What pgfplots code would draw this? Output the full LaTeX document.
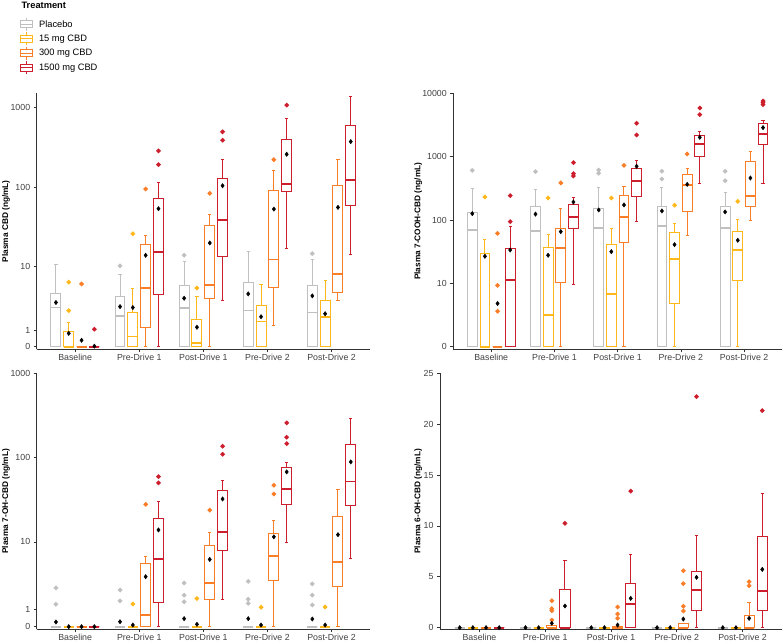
\documentclass[border=0pt]{standalone}
\usepackage{fontspec}
\setmainfont{Liberation Sans}
\usepackage{pgfplots}
\pgfplotsset{compat=1.18}
\usepgfplotslibrary{statistics}
\definecolor{placebogray}{RGB}{192,192,192}
\definecolor{fifteenmg}{RGB}{255,184,28}
\definecolor{threehundredmg}{RGB}{250,125,40}
\definecolor{fifteenhundredmg}{RGB}{204,30,44}
% pseudo-log scale of the original: asinh(v/2)/ln(10)
\newcommand\psT[1]{\begingroup
  \pgfkeys{/pgf/fpu=true,/pgf/fpu/output format=fixed}%
  \pgfmathparse{ln(#1/2+sqrt((#1/2)*(#1/2)+1))/ln(10)}%
  \xdef\pstmp{\pgfmathresult}\endgroup}
% list of points x/v (v in ng/mL) -> \pslist of scaled coordinates
\newcommand\pspts[1]{\gdef\pslist{}%
  \if\relax\detokenize{#1}\relax\else
  \foreach \px/\pv in {#1}{\psT{\pv}\xdef\pslist{\pslist(\px,\pstmp)}}\fi}
\pgfplotsset{
  bxs/.style={draw=#1, color=#1, line width=1pt, solid,
    mark=*, mark size=1.8pt, mark options={draw=none, fill=#1},
    boxplot/draw direction=y,
    boxplot/box extend=0.155, boxplot/whisker extend=0.05,
    boxplot/draw/box/.code={%
      \draw[color=#1, line width=1pt]
        (boxplot box cs:\pgfplotsboxplotvalue{lower quartile},0)
        rectangle
        (boxplot box cs:\pgfplotsboxplotvalue{upper quartile},1);},
    boxplot/every whisker/.style={draw=#1, line width=1pt},
    boxplot/every median/.style={draw=#1, line width=1.8pt}},
  bxleg/.style={legend image code/.code={%
    \path[draw=none, fill=none] (0pt,0pt) -- (17pt,0pt);
    \draw[color=#1, line width=1pt] (0pt,-3.5pt) rectangle (12pt,3.5pt);
    \draw[color=#1, line width=1pt] (0pt,0pt) -- (12pt,0pt);
    \draw[color=#1, line width=1pt] (6pt,3.5pt) -- (6pt,6.5pt) (6pt,-3.5pt) -- (6pt,-6.5pt);}},
  common/.style={
    scale only axis, clip=false,
    xmin=0.4, xmax=5.6,
    axis x line*=bottom, axis y line*=left,
    axis line style={line width=0.8pt, black!80},
    xtick={1,2,3,4,5},
    xticklabels={Baseline,Pre-Drive 1,Post-Drive 1,Pre-Drive 2,Post-Drive 2},
    tick align=outside, major tick length=3pt,
    tick style={black!80, line width=0.6pt},
    ticklabel style={font=\fontsize{8.8}{10}\selectfont, text=black!75},
    xticklabel style={yshift=1.5pt},
    every axis y label/.style={rotate=90, anchor=center, font=\bfseries\fontsize{8.3}{10}\selectfont},
    /pgf/number format/assume math mode=true,
  },
}
% #1 colour, #2 position, #3 lower whisker, #4 Q1, #5 median, #6 Q3, #7 upper whisker, #8 outliers (coordinates)
\newcommand\bx[8]{\addplot[bxs=#1, boxplot prepared={draw position=#2, lower whisker=#3, lower quartile=#4, median=#5, upper quartile=#6, upper whisker=#7}] coordinates {#8};}
% same, values in ng/mL drawn on the pseudo-log axes; #8 = list of outlier values
\newcommand\bxl[8]{%
  \psT{#3}\let\vA\pstmp \psT{#4}\let\vB\pstmp \psT{#5}\let\vC\pstmp
  \psT{#6}\let\vD\pstmp \psT{#7}\let\vE\pstmp
  \gdef\pslist{}%
  \if\relax\detokenize{#8}\relax\else
  \foreach \pv in {#8}{\psT{\pv}\xdef\pslist{\pslist(0,\pstmp)}}\fi
  \edef\bxcmd{\noexpand\addplot[bxs=#1, boxplot prepared={draw position=#2, lower whisker=\vA, lower quartile=\vB, median=\vC, upper quartile=\vD, upper whisker=\vE}] coordinates {\pslist};}%
  \bxcmd}
\newcommand\meansl[1]{\pspts{#1}%
  \edef\bxcmd{\noexpand\addplot[only marks, mark=diamond*, mark size=2.2pt, black] coordinates {\pslist};}%
  \bxcmd}
\begin{document}
\psT{1}\let\tA\pstmp \psT{10}\let\tB\pstmp \psT{100}\let\tC\pstmp
\psT{1000}\let\tD\pstmp \psT{10000}\let\tE\pstmp
\begin{tikzpicture}
\path[use as bounding box] (0,0) rectangle (784pt,642pt);

% ---------------- Plasma CBD
\begin{axis}[common, at={(36.7pt,292.7pt)}, anchor=south west,
  width=333.3pt, height=256pt, ymin=-0.033, ymax=3.176,
  ytick={0,\tA,\tB,\tC,\tD}, yticklabels={0,1,10,100,1000},
  ylabel={Plasma CBD (ng/mL)}, ylabel style={at={(axis description cs:-0.092,0.5)}},
  legend style={at={(axis description cs:-0.061,1.305)}, anchor=north west, draw=none, fill=none,
    font=\fontsize{9.3}{11}\selectfont, row sep=0.4pt, cells={anchor=west}},
  legend cell align=left]
\addlegendimage{bxleg=placebogray}\addlegendentry{Placebo}
\addlegendimage{bxleg=fifteenmg}\addlegendentry{15 mg CBD}
\addlegendimage{bxleg=threehundredmg}\addlegendentry{300 mg CBD}
\addlegendimage{bxleg=fifteenhundredmg}\addlegendentry{1500 mg CBD}
\node[anchor=west, font=\bfseries\fontsize{9.3}{11}\selectfont] at (axis description cs:-0.056,1.343) {Treatment};
% Baseline
\bxl{placebogray}{0.7}{0}{0}{2.77}{4.37}{10.6}{}
\bxl{fifteenmg}{0.9}{0}{0}{0}{0.89}{1.53}{2.48,6.3}
\bxl{threehundredmg}{1.1}{0}{0}{0}{0}{0}{5.95}
\bxl{fifteenhundredmg}{1.3}{0}{0}{0}{0}{0}{1.05}
% Pre-Drive 1
\bxl{placebogray}{1.7}{0}{0}{2.02}{4.0}{7.95}{10.2}
\bxl{fifteenmg}{1.9}{0}{0}{0.59}{2.27}{5.15}{26}
\bxl{threehundredmg}{2.1}{0}{1.18}{5.25}{18.8}{24.6}{94.8}
\bxl{fifteenhundredmg}{2.3}{0}{4.27}{15.2}{71}{115}{191,284}
% Post-Drive 1
\bxl{placebogray}{2.7}{0}{0}{2.69}{5.6}{11.5}{13.9}
\bxl{fifteenmg}{2.9}{0}{0}{0.19}{1.7}{3.96}{5.25}
\bxl{threehundredmg}{3.1}{0}{3.75}{5.8}{33.4}{44.7}{83.6}
\bxl{fifteenhundredmg}{3.3}{3.5}{13.5}{38.6}{126.5}{221}{387,493}
% Pre-Drive 2
\bxl{placebogray}{3.7}{0}{0}{2.48}{6.3}{15.5}{}
\bxl{fifteenmg}{3.9}{0}{0}{1.58}{2.99}{5.9}{}
\bxl{threehundredmg}{4.1}{1.32}{5.4}{12.3}{89.4}{161}{221}
\bxl{fifteenhundredmg}{4.3}{16.9}{87}{110.6}{391}{718}{1066}
% Post-Drive 2
\bxl{placebogray}{4.7}{0}{0}{2.3}{5.7}{12.2}{14.6}
\bxl{fifteenmg}{4.9}{0}{0}{1.9}{3.55}{6.7}{}
\bxl{threehundredmg}{5.1}{3.58}{4.5}{7.95}{105}{225}{}
\bxl{fifteenhundredmg}{5.3}{14.4}{59}{124}{586}{1371}{}
% means
\meansl{0.7/3.3, 0.9/0.79, 1.1/0.37, 1.3/0.03,
 1.7/2.86, 1.9/2.77, 2.1/13.9, 2.3/53.6,
 2.7/3.8, 2.9/1.18, 3.1/19.9, 3.3/104,
 3.7/4.37, 3.9/1.95, 4.1/53, 4.3/258,
 4.7/4.1, 4.9/2.2, 5.1/55.7, 5.3/372}
\end{axis}

% ---------------- Plasma 7-COOH-CBD
\begin{axis}[common, at={(453.3pt,292.7pt)}, anchor=south west,
  width=328.7pt, height=256pt, ymin=-0.041, ymax=4.0,
  ytick={0,\tB,\tC,\tD,\tE}, yticklabels={0,10,100,1000,10000},
  ylabel={Plasma 7-COOH-CBD (ng/mL)}, ylabel style={at={(axis description cs:-0.1065,0.5)}}]
\bxl{placebogray}{0.7}{0}{0}{68.7}{132}{313}{608}
\bxl{fifteenmg}{0.9}{0}{0}{0}{29.4}{48.9}{231}
\bxl{threehundredmg}{1.1}{0}{0}{0}{0}{0}{3.35,9.2,61.6}
\bxl{fifteenhundredmg}{1.3}{0}{0}{11.2}{35.2}{78.5}{94.2,242}
\bxl{placebogray}{1.7}{0}{0}{67}{162}{305}{580}
\bxl{fifteenmg}{1.9}{0}{0}{2.9}{37}{59.4}{222}
\bxl{threehundredmg}{2.1}{0}{10.1}{36.1}{73}{153}{384}
\bxl{fifteenhundredmg}{2.3}{9.6}{73.8}{110}{175}{228}{495,539,804}
\bxl{placebogray}{2.7}{0}{0}{74.8}{151}{328}{546,615}
\bxl{fifteenmg}{2.9}{0}{0}{6.55}{41.3}{73}{222}
\bxl{threehundredmg}{3.1}{0}{43.9}{113}{248}{344}{730}
\bxl{fifteenhundredmg}{3.3}{94.2}{233}{408}{654}{855}{2198,3357}
\bxl{placebogray}{3.7}{0}{0}{81.4}{162}{328}{444,587}
\bxl{fifteenmg}{3.9}{0}{4.6}{23.9}{63.9}{88.5}{171}
\bxl{threehundredmg}{4.1}{55.9}{134}{352}{520}{654}{1102}
\bxl{fifteenhundredmg}{4.3}{379}{988}{1567}{2173}{2512}{4603,5866}
\bxl{placebogray}{4.7}{0}{0}{73.8}{166}{270}{418,587}
\bxl{fifteenmg}{4.9}{0}{10.8}{33.2}{66.2}{100}{197}
\bxl{threehundredmg}{5.1}{98.8}{164}{239}{844}{1186}{}
\bxl{fifteenhundredmg}{5.3}{379}{1528}{2279}{3279}{3700}{6622,7126,7568}
\meansl{0.7/126, 0.9/26.7, 1.1/4.6, 1.3/33.6,
 1.7/124, 1.9/27.7, 2.1/65.5, 2.3/192,
 2.7/144, 2.9/31.6, 3.1/173, 3.3/704,
 3.7/139, 3.9/40.8, 4.1/365, 4.3/2018,
 4.7/134, 4.9/47.8, 5.1/460, 5.3/2871}
\end{axis}

% ---------------- Plasma 7-OH-CBD
\begin{axis}[common, at={(36.7pt,12.7pt)}, anchor=south west,
  width=333.3pt, height=256pt, ymin=-0.031, ymax=3.0,
  ytick={0,\tA,\tB,\tC,\tD}, yticklabels={0,1,10,100,1000},
  ylabel={Plasma 7-OH-CBD (ng/mL)}, ylabel style={at={(axis description cs:-0.092,0.5)}}]
\bxl{placebogray}{0.7}{0}{0}{0}{0}{0}{1.3,2.53}
\bxl{fifteenmg}{0.9}{0}{0}{0}{0}{0}{}
\bxl{threehundredmg}{1.1}{0}{0}{0}{0}{0}{}
\bxl{fifteenhundredmg}{1.3}{0}{0}{0}{0}{0}{}
\bxl{placebogray}{1.7}{0}{0}{0}{0}{0}{1.52,2.35}
\bxl{fifteenmg}{1.9}{0}{0}{0}{0}{0}{1.32}
\bxl{threehundredmg}{2.1}{0}{0}{0.63}{5.4}{6.6}{28}
\bxl{fifteenhundredmg}{2.3}{0}{1.41}{6.2}{19.2}{30.2}{50.4,59.8}
\bxl{placebogray}{2.7}{0}{0}{0}{0}{0}{1.46,1.94,2.98}
\bxl{fifteenmg}{2.9}{0}{0}{0}{0}{0}{1.69}
\bxl{threehundredmg}{3.1}{0}{1.64}{2.95}{8.95}{13}{24}
\bxl{fifteenhundredmg}{3.3}{1.64}{7.8}{13}{40.8}{53.6}{110,137}
\bxl{placebogray}{3.7}{0}{0}{0}{0}{0}{1.36,1.64,3.15}
\bxl{fifteenmg}{3.9}{0}{0}{0}{0}{0}{1.11}
\bxl{threehundredmg}{4.1}{0}{3.2}{6.8}{12.6}{18.1}{37.2,47.2}
\bxl{fifteenhundredmg}{4.3}{9.85}{27.8}{43}{75.8}{88.5}{147,175,259}
\bxl{placebogray}{4.7}{0}{0}{0}{0}{0}{1.25,1.94,2.9}
\bxl{fifteenmg}{4.9}{0}{0}{0}{0}{0}{1.12}
\bxl{threehundredmg}{5.1}{0}{2.7}{5.65}{20.2}{42.6}{}
\bxl{fifteenhundredmg}{5.3}{6.3}{27.3}{52.2}{145}{292}{}
\meansl{0.7/0.256, 0.9/0, 1.1/0, 1.3/0,
 1.7/0.27, 1.9/0.09, 2.1/3.65, 2.3/13.9,
 2.7/0.44, 2.9/0.13, 3.1/6.1, 3.3/32.5,
 3.7/0.44, 3.9/0.09, 4.1/11.5, 4.3/68,
 4.7/0.42, 4.9/0.09, 5.1/12.2, 5.3/89.3}
\end{axis}

% ---------------- Plasma 6-OH-CBD
\begin{axis}[common, at={(440pt,12.7pt)}, anchor=south west,
  width=342pt, height=256pt, ymin=-0.16, ymax=25,
  ytick={0,5,10,15,20,25},
  ylabel={Plasma 6-OH-CBD (ng/mL)}, ylabel style={at={(axis description cs:-0.0635,0.5)}}]
\bx{placebogray}{0.7}{0}{0}{0}{0}{0}{}
\bx{fifteenmg}{0.9}{0}{0}{0}{0}{0}{}
\bx{threehundredmg}{1.1}{0}{0}{0}{0}{0}{}
\bx{fifteenhundredmg}{1.3}{0}{0}{0}{0}{0}{}
\bx{placebogray}{1.7}{0}{0}{0}{0}{0}{}
\bx{fifteenmg}{1.9}{0}{0}{0}{0}{0}{}
\bx{threehundredmg}{2.1}{0}{0}{0}{0.25}{0.25}{(0,0.75) (0,1.67) (0,1.87) (0,2.65)}
\bx{fifteenhundredmg}{2.3}{0}{0}{0}{3.77}{6.59}{(0,10.26)}
\bx{placebogray}{2.7}{0}{0}{0}{0}{0}{}
\bx{fifteenmg}{2.9}{0}{0}{0}{0}{0}{}
\bx{threehundredmg}{3.1}{0}{0}{0}{0.08}{0.08}{(0,0.92) (0,1.34) (0,2.03)}
\bx{fifteenhundredmg}{3.3}{0}{0}{2.29}{4.36}{7.21}{(0,13.43)}
\bx{placebogray}{3.7}{0}{0}{0}{0}{0}{}
\bx{fifteenmg}{3.9}{0}{0}{0}{0}{0}{}
\bx{threehundredmg}{4.1}{0}{0}{0}{0.43}{0.43}{(0,1.64) (0,2.1) (0,4.33) (0,5.6)}
\bx{fifteenhundredmg}{4.3}{0}{1.67}{3.67}{5.5}{9.1}{(0,22.7)}
\bx{placebogray}{4.7}{0}{0}{0}{0}{0}{}
\bx{fifteenmg}{4.9}{0}{0}{0}{0}{0}{}
\bx{threehundredmg}{5.1}{0}{0}{0}{1.21}{2.46}{(0,4.13) (0,4.52)}
\bx{fifteenhundredmg}{5.3}{0}{1.67}{3.6}{8.94}{13.2}{(0,21.33)}
\addplot[only marks, mark=diamond*, mark size=2.2pt, black] coordinates {
 (0.7,0) (0.9,0) (1.1,0) (1.3,0)
 (1.7,0) (1.9,0) (2.1,0.43) (2.3,2.13)
 (2.7,0) (2.9,0) (3.1,0.26) (3.3,2.88)
 (3.7,0) (3.9,0) (4.1,0.85) (4.3,4.95)
 (4.7,0) (4.9,0) (5.1,0.92) (5.3,5.73)};
\end{axis}
\end{tikzpicture}
\end{document}
